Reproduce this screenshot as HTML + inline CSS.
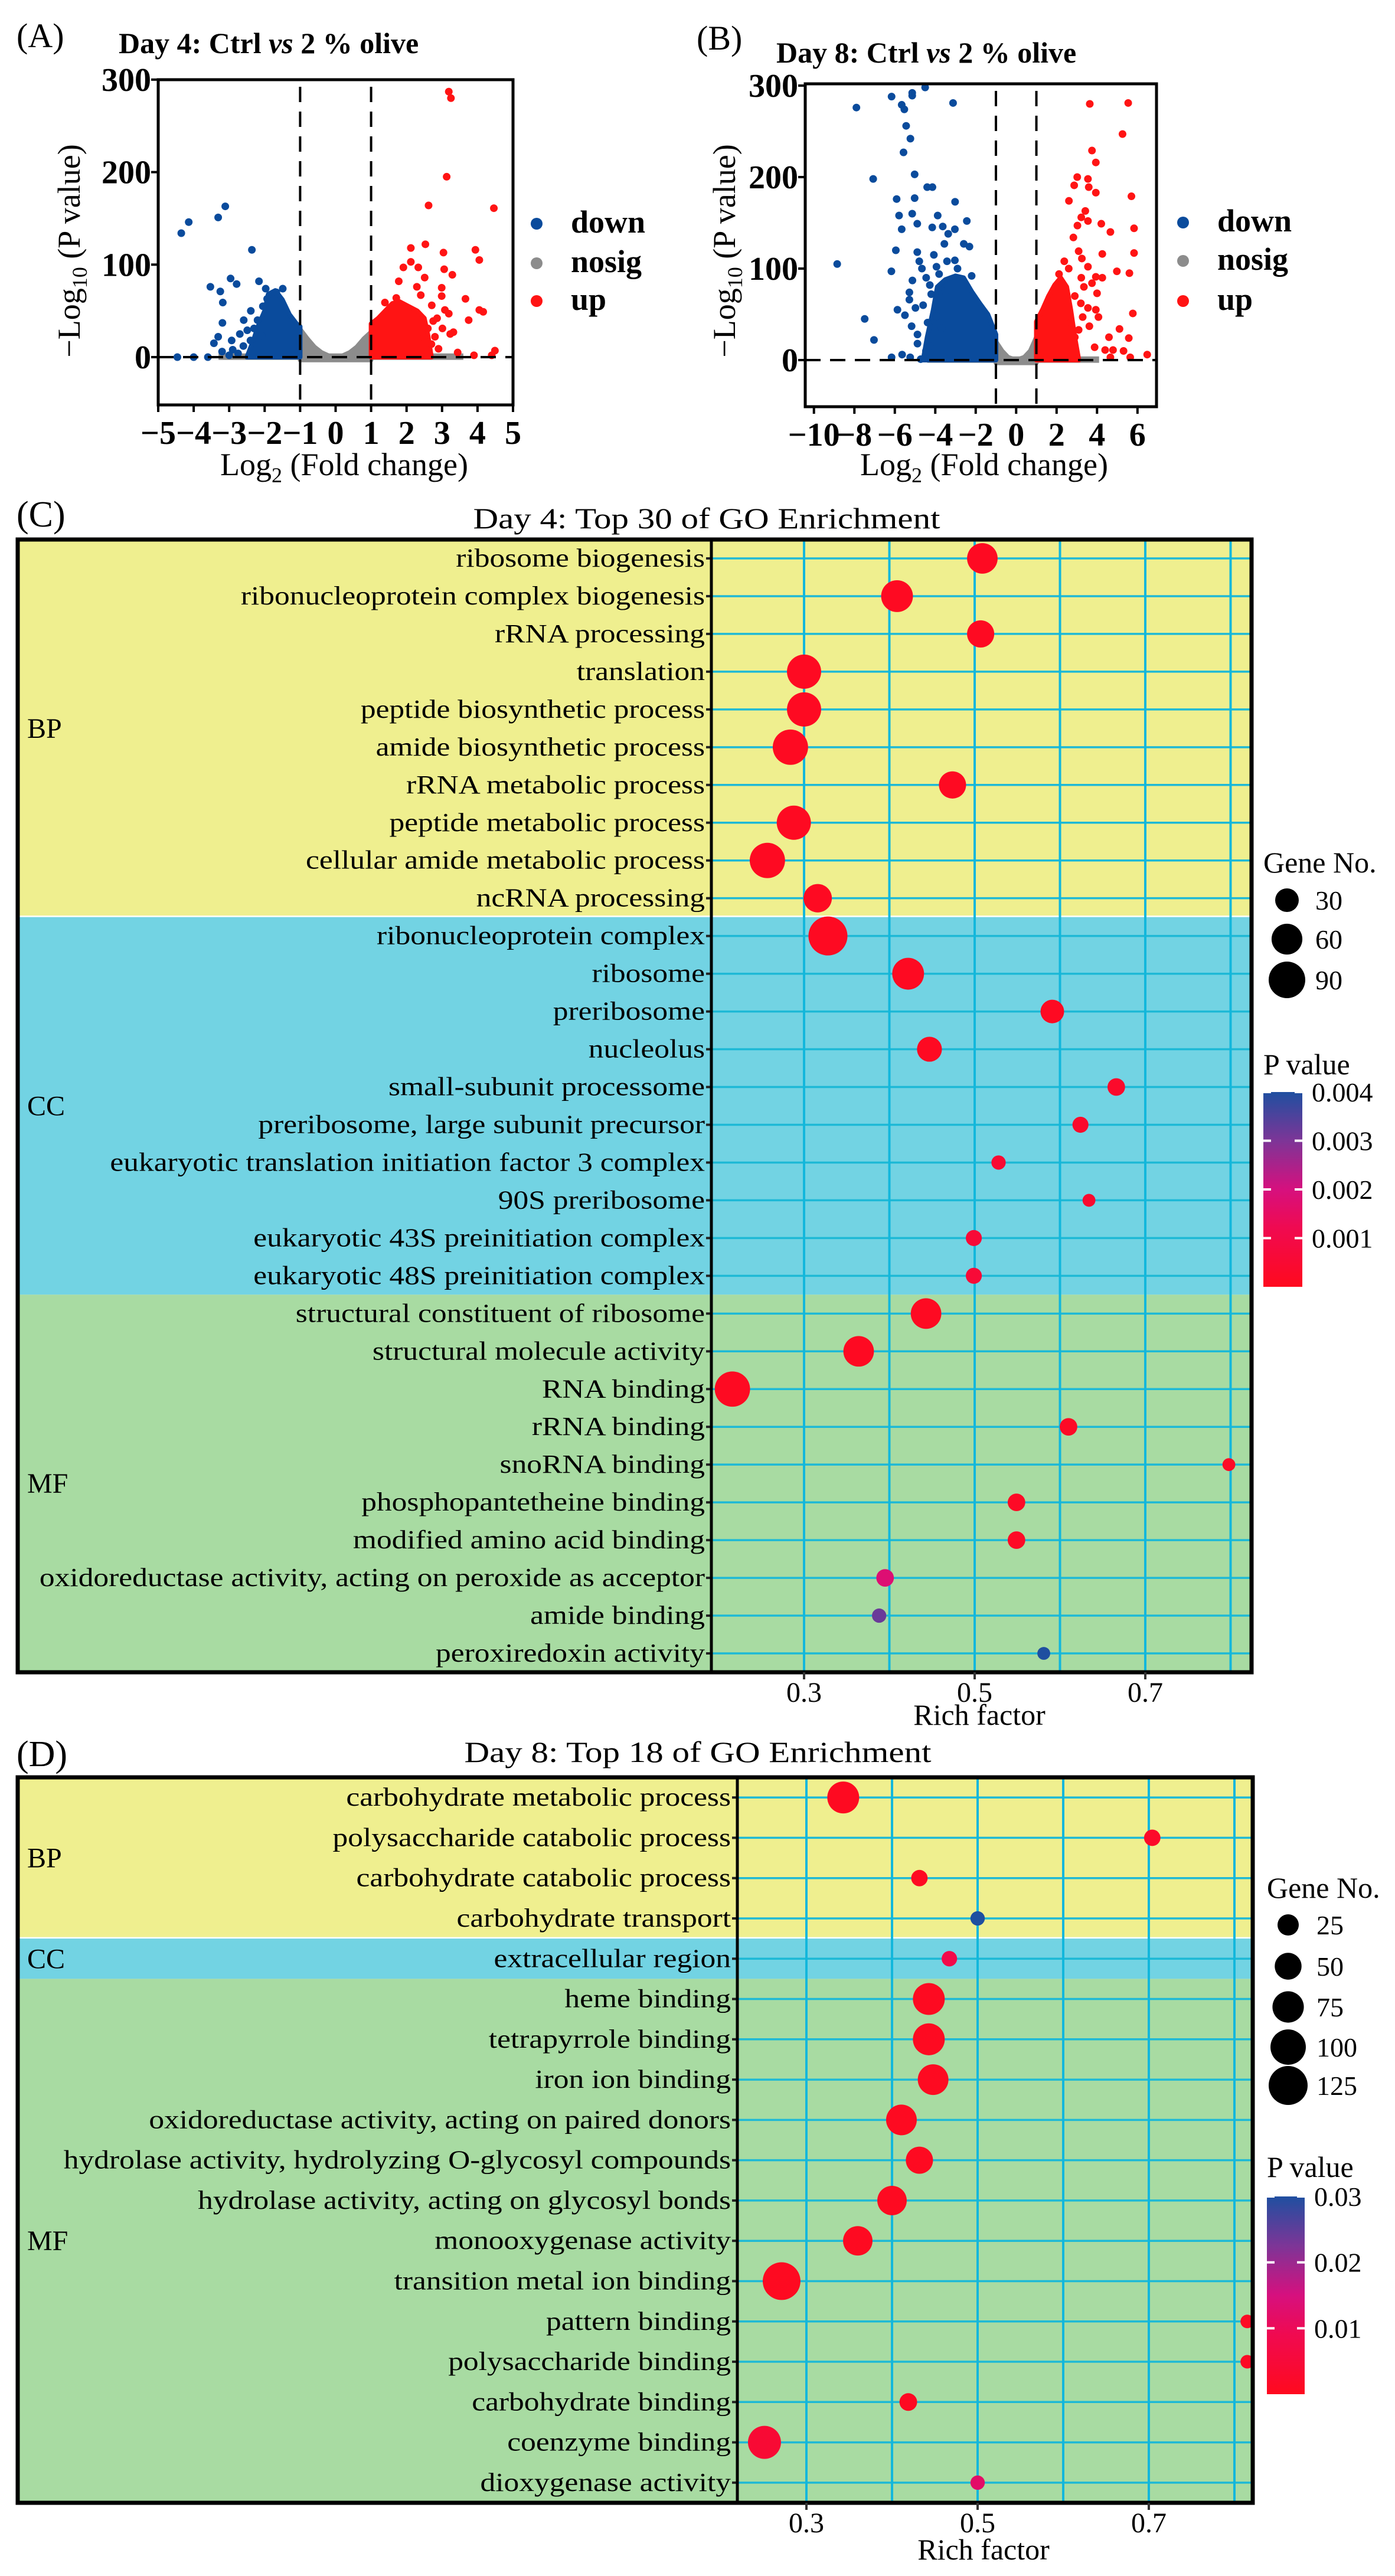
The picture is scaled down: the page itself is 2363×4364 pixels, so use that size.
<!DOCTYPE html>
<html><head><meta charset="utf-8"><title>Volcano and GO enrichment</title>
<style>
html,body{margin:0;padding:0;background:#fff;}
svg{display:block;font-family:"Liberation Serif","DejaVu Serif",serif;}
</style></head>
<body>
<svg id="fig" xmlns="http://www.w3.org/2000/svg" width="2363" height="4364" viewBox="0 0 2363 4364">
<defs>
<linearGradient id="gradC" x1="0" y1="1" x2="0" y2="0">
<stop offset="0" stop-color="#ff0a1e"/><stop offset="0.3" stop-color="#f00a50"/><stop offset="0.5" stop-color="#d6107e"/><stop offset="0.75" stop-color="#7d3597"/><stop offset="1" stop-color="#1f4fa0"/>
</linearGradient>
</defs>
<rect x="0" y="0" width="2363" height="4364" fill="#fff"/>
<text x="28" y="80" font-size="58">(A)</text>
<text x="201" y="90" font-size="50" font-weight="bold">Day 4: Ctrl <tspan font-style="italic">vs</tspan> 2 % olive</text>
<text transform="translate(135,425) rotate(-90)" text-anchor="middle" font-size="54">−Log<tspan font-size="36" dy="12">10</tspan><tspan dy="-12"> (P value)</tspan></text>
<text x="583" y="805" text-anchor="middle" font-size="54">Log<tspan font-size="36" dy="12">2</tspan><tspan dy="-12"> (Fold change)</tspan></text>
<text x="1180" y="84" font-size="58">(B)</text>
<text x="1315" y="106" font-size="50" font-weight="bold">Day 8: Ctrl <tspan font-style="italic">vs</tspan> 2 % olive</text>
<text transform="translate(1245,425) rotate(-90)" text-anchor="middle" font-size="54">−Log<tspan font-size="36" dy="12">10</tspan><tspan dy="-12"> (P value)</tspan></text>
<text x="1667" y="805" text-anchor="middle" font-size="54">Log<tspan font-size="36" dy="12">2</tspan><tspan dy="-12"> (Fold change)</tspan></text>
<text x="28" y="892" font-size="62">(C)</text>
<g transform="translate(1197,895) scale(1.18,1)"><text x="0" y="0" text-anchor="middle" font-size="50">Day 4: Top 30 of GO Enrichment</text></g>
<text x="28" y="2992" font-size="62">(D)</text>
<g transform="translate(1182,2985) scale(1.18,1)"><text x="0" y="0" text-anchor="middle" font-size="50">Day 8: Top 18 of GO Enrichment</text></g>
<text x="1659" y="2922" text-anchor="middle" font-size="50">Rich factor</text>
<text x="1666" y="4336" text-anchor="middle" font-size="50">Rich factor</text>
</svg>
<script>
const aDown=[[-4.35,134],[-4.14,146],[-3.31,151],[-3.11,163],[-2.36,116],[-2.96,85],[-2.79,79],[-3.53,76],[-3.25,71],[-3.18,59],[-2.16,82],[-3.19,37],[-3.31,22],[-3.43,15],[-3.2,6],[-2.39,50],[-2.59,40],[-4.46,0],[-4.0,0],[-3.6,0],[-2.93,18],[-2.7,25],[-2.49,29],[-2.3,31],[-2.08,23],[-1.97,74],[-1.49,74],[-1.67,70],[-1.93,63],[-2.9,8],[-2.6,12],[-2.4,18],[-2.75,4],[-3.0,2],[-2.2,40],[-2.05,55]];
const aUp=[[3.19,287],[3.25,280],[3.13,195],[2.62,164],[4.46,161],[2.53,122],[2.12,118],[3.94,116],[3.04,113],[4.05,105],[2.12,103],[1.91,97],[2.33,97],[3.06,95],[3.29,89],[2.51,86],[1.78,82],[2.29,76],[2.99,75],[2.4,67],[2.99,66],[3.66,63],[1.71,64],[1.39,59],[2.71,56],[4.05,51],[4.16,49],[3.08,51],[3.75,40],[3.19,47],[2.75,39],[3.01,31],[3.23,25],[3.32,27],[2.9,9],[3.44,5],[3.9,2],[4.49,7],[4.4,2],[2.49,21],[2.6,31],[2.86,42],[2.01,37],[2.27,42],[2.7,14],[2.8,22]];
const aDownEnv=[[-2.5,0],[-2.3,20],[-2.2,32],[-2.0,50],[-1.9,68],[-1.7,72],[-1.5,62],[-1.3,46],[-1.1,36],[-1,33],[-1,0]];
const aUpEnv=[[1,0],[1,36],[1.2,42],[1.4,50],[1.6,58],[1.8,60],[2.0,56],[2.3,50],[2.5,42],[2.6,24],[2.7,0]];
const aNosigEnv=[[-1,30],[-0.8,20],[-0.6,11],[-0.4,5],[-0.2,1.5],[0,0],[0.2,1.5],[0.4,5],[0.6,11],[0.8,20],[1,27],[1,-3],[-1,-3]];
const aNosigBase=[-3.3,3.6];
const aXTicks=[-5,-4,-3,-2,-1,0,1,2,3,4,5];
const aYTicks=[0,100,200,300];
const bDown=[[-4.5,298],[-5.14,292],[-5.14,289],[-6.16,288],[-7.9,276],[-5.66,279],[-5.53,274],[-3.12,281],[-5.44,256],[-5.23,242],[-5.57,227],[-7.07,198],[-5.02,203],[-4.4,189],[-4.14,189],[-5.91,176],[-5.02,177],[-3.02,173],[-5.79,158],[-5.14,160],[-3.88,158],[-4.89,149],[-5.66,143],[-4.15,145],[-3.63,146],[-2.44,152],[-3.36,138],[-3.03,143],[-5.95,120],[-4.89,118],[-3.55,127],[-2.59,127],[-2.31,124],[-8.85,105],[-6.17,97],[-5.13,87],[-7.49,45],[-7.03,22],[-5.87,55],[-5.5,49],[-5.28,74],[-5.28,66],[-4.98,57],[-5.17,37],[-4.88,28],[-4.88,18],[-4.38,41],[-4.79,108],[-4.66,100],[-4.07,115],[-3.94,102],[-3.42,108],[-3.03,109],[-4.27,82],[-4.2,72],[-3.81,94],[-6.16,3],[-5.64,6],[-5.24,3],[-4.72,1],[-4.46,10],[-4.27,15],[-3.94,48],[-3.68,35],[-4.6,60],[-4.45,90],[-3.5,75],[-2.9,100],[-2.2,92]];
const bUp=[[3.64,280],[5.54,281],[5.26,247],[3.75,229],[3.94,216],[3.02,200],[3.55,198],[2.87,191],[3.59,189],[3.94,183],[5.7,179],[2.61,174],[3.42,163],[3.22,156],[3.55,152],[4.21,149],[4.66,140],[5.83,144],[3.03,147],[2.83,134],[3.09,119],[4.26,116],[5.83,117],[3.25,111],[2.38,108],[3.55,102],[4.98,97],[5.6,95],[2.12,94],[3.94,91],[4.26,90],[3.22,90],[3.75,84],[4.0,73],[3.35,80],[5.77,51],[3.55,57],[3.94,55],[3.29,47],[4.07,47],[5.11,34],[5.57,24],[4.59,25],[3.62,37],[3.88,14],[4.4,11],[4.79,11],[5.31,10],[6.48,6],[4.66,3],[5.64,3],[2.9,25],[3.09,33],[2.7,41],[2.6,100],[2.9,70],[3.2,62]];
const bDownEnv=[[-4.6,0],[-4.4,25],[-4.1,55],[-3.9,80],[-3.5,88],[-3.0,92],[-2.6,90],[-2.2,75],[-1.8,62],[-1.4,50],[-1.0,28],[-1,0]];
const bUpEnv=[[1,0],[1,42],[1.3,55],[1.6,70],[1.9,82],[2.2,90],[2.5,80],[2.7,55],[2.9,25],[3.1,0]];
const bNosigEnv=[[-1,20],[-0.7,10],[-0.4,3],[0,0],[0.4,3],[0.7,10],[1,25],[1,-3],[-1,-3]];
const bNosigBase=[-4.4,4.1];
const bXTicks=[-10,-8,-6,-4,-2,0,2,4,6];
const bYTicks=[0,100,200,300];
const cTerms=["ribosome biogenesis","ribonucleoprotein complex biogenesis","rRNA processing","translation","peptide biosynthetic process","amide biosynthetic process","rRNA metabolic process","peptide metabolic process","cellular amide metabolic process","ncRNA processing","ribonucleoprotein complex","ribosome","preribosome","nucleolus","small-subunit processome","preribosome, large subunit precursor","eukaryotic translation initiation factor 3 complex","90S preribosome","eukaryotic 43S preinitiation complex","eukaryotic 48S preinitiation complex","structural constituent of ribosome","structural molecule activity","RNA binding","rRNA binding","snoRNA binding","phosphopantetheine binding","modified amino acid binding","oxidoreductase activity, acting on peroxide as acceptor","amide binding","peroxiredoxin activity"];
const cRich=[0.509,0.409,0.507,0.30,0.30,0.284,0.474,0.288,0.257,0.316,0.328,0.422,0.591,0.447,0.666,0.624,0.528,0.634,0.499,0.499,0.443,0.364,0.216,0.610,0.798,0.549,0.549,0.395,0.388,0.581];
const cGenes=[59,65,44,77,77,83,44,77,83,49,104,65,30,35,11,7,3,0,7,7,59,59,83,11,0,11,11,11,3,0];
const cPval=[0.0001,0.0001,0.0001,0.0001,0.0001,0.0001,0.0001,0.0001,0.0001,0.0001,0.0001,0.0001,0.0001,0.0001,0.0003,0.0003,0.0005,0.0004,0.0006,0.0006,0.0001,0.0001,0.0001,0.0002,0.0002,0.0002,0.0002,0.0018,0.0032,0.004];
const cCats=["BP","CC","MF"];
const cCatCounts=[10,10,10];
const cXTicks=[0.3,0.5,0.7];
const cGridX=[0.3,0.4,0.5,0.6,0.7,0.8];
const cSizeLegend=[30,60,90];
const cPTicks=[0.001,0.002,0.003,0.004];
const dTerms=["carbohydrate metabolic process","polysaccharide catabolic process","carbohydrate catabolic process","carbohydrate transport","extracellular region","heme binding","tetrapyrrole binding","iron ion binding","oxidoreductase activity, acting on paired donors","hydrolase activity, hydrolyzing O-glycosyl compounds","hydrolase activity, acting on glycosyl bonds","monooxygenase activity","transition metal ion binding","pattern binding","polysaccharide binding","carbohydrate binding","coenzyme binding","dioxygenase activity"];
const dRich=[0.343,0.704,0.432,0.5,0.467,0.443,0.443,0.448,0.411,0.432,0.40,0.36,0.271,0.815,0.815,0.419,0.251,0.5];
const dGenes=[78,8,8,2,5,78,78,71,71,52,64,64,116,0,0,12,85,2];
const dPval=[0.0005,0.002,0.0008,0.03,0.008,0.0005,0.0005,0.0005,0.0005,0.0005,0.0005,0.0005,0.0005,0.001,0.001,0.0008,0.004,0.012];
const dCats=["BP","CC","MF"];
const dCatCounts=[4,1,13];
const dXTicks=[0.3,0.5,0.7];
const dGridX=[0.3,0.4,0.5,0.6,0.7,0.8];
const dSizeLegend=[25,50,75,100,125];
const dPTicks=[0.01,0.02,0.03];

const NS="http://www.w3.org/2000/svg";
const svg=document.getElementById('fig');
function mk(tag,attrs,parent){const e=document.createElementNS(NS,tag);for(const k in attrs)e.setAttribute(k,attrs[k]);(parent||svg).appendChild(e);return e;}
function hex(c){return [parseInt(c.slice(1,3),16),parseInt(c.slice(3,5),16),parseInt(c.slice(5,7),16)];}
const stops=[[0,'#ff0a1e'],[0.3,'#f00a50'],[0.5,'#d6107e'],[0.75,'#7d3597'],[1,'#1f4fa0']];
function pcol(f){f=Math.max(0,Math.min(1,f));for(let i=1;i<stops.length;i++){if(f<=stops[i][0]){const a=stops[i-1],b=stops[i];const t=(f-a[0])/(b[0]-a[0]);const A=hex(a[1]),B=hex(b[1]);return 'rgb('+A.map((v,j)=>Math.round(v+(B[j]-v)*t)).join(',')+')';}}return stops[stops.length-1][1];}

function volcano(id,box,xmin,xmax,y0px,pxPerUnitY,down,up,downEnv,upEnv,nosigEnv,nosigBase,xticks,yticks,legendX,legendY){
  const sx=v=>box.x0+(v-xmin)/(xmax-xmin)*(box.x1-box.x0);
  const sy=v=>y0px-v*pxPerUnitY;
  const g=mk('g',{});
  
  
  const clip=mk('clipPath',{id:id+'clip'},g);
  mk('rect',{x:box.x0,y:box.y0,width:box.x1-box.x0,height:box.y1-box.y0},clip);
  const pg=mk('g',{'clip-path':'url(#'+id+'clip)'},g);
  
  
  const nb=mk('rect',{x:sx(nosigBase[0]),y:sy(4),width:sx(nosigBase[1])-sx(nosigBase[0]),height:sy(-3)-sy(4),fill:'#8c8c8c'},pg);
  
  
  const poly=(env,col,name)=>{const p=mk('polygon',{points:env.map(d=>sx(d[0])+','+sy(d[1])).join(' '),fill:col,stroke:col,'stroke-width':8,'stroke-linejoin':'round'},pg);
    
    };
  poly(nosigEnv,'#8c8c8c','nosig-dense-points');
  poly(downEnv,'#0a4b9c','down-dense-points');
  poly(upEnv,'#ff1414','up-dense-points');
  down.forEach(d=>{const c=mk('circle',{cx:sx(d[0]),cy:sy(d[1]),r:6.5,fill:'#0a4b9c'},pg);
    
    });
  up.forEach(d=>{const c=mk('circle',{cx:sx(d[0]),cy:sy(d[1]),r:6.5,fill:'#ff1414'},pg);
    
    });
  [-1,1].forEach(v=>{const l=mk('line',{x1:sx(v),x2:sx(v),y1:box.y0+12,y2:box.y1,stroke:'#000','stroke-width':4,'stroke-dasharray':'26 16'},g);
    
    });
  const hl=mk('line',{x1:box.x0,x2:box.x1,y1:sy(0),y2:sy(0),stroke:'#000','stroke-width':4,'stroke-dasharray':'26 16'},g);
  
  
  const fr=mk('rect',{x:box.x0,y:box.y0,width:box.x1-box.x0,height:box.y1-box.y0,fill:'none',stroke:'#000','stroke-width':5},g);
  
  
  xticks.forEach(v=>{mk('line',{x1:sx(v),x2:sx(v),y1:box.y1,y2:box.y1+12,stroke:'#000','stroke-width':4},g);
    const t=mk('text',{x:sx(v),y:box.y1+66,'text-anchor':'middle','font-size':56,'font-weight':'bold'},g);
    t.textContent=(v<0?'−':'')+Math.abs(v);
    
    });
  yticks.forEach(v=>{mk('line',{x1:box.x0-12,x2:box.x0,y1:sy(v),y2:sy(v),stroke:'#000','stroke-width':4},g);
    const t=mk('text',{x:box.x0-12,y:sy(v)+19,'text-anchor':'end','font-size':56,'font-weight':'bold'},g);
    t.textContent=String(v);
    
    });
  const lg=mk('g',{},g);
  
  
  [['down','#0a4b9c'],['nosig','#8c8c8c'],['up','#ff1414']].forEach((e,i)=>{
    const cy=legendY[i];
    mk('circle',{cx:legendX,cy:cy,r:10,fill:e[1]},lg);
    const t=mk('text',{x:legendX+58,y:cy+15,'font-size':54,'font-weight':'bold'},lg);
    t.textContent=e[0];
    
    });
}
volcano('a',{x0:268,x1:869,y0:135,y1:686},-5,5,605,1.567,aDown,aUp,aDownEnv,aUpEnv,aNosigEnv,aNosigBase,aXTicks,aYTicks,909,[379,446,510]);
volcano('b',{x0:1364,x1:1959,y0:142,y1:689},-10.43,6.94,610,1.55,bDown,bUp,bDownEnv,bUpEnv,bNosigEnv,bNosigBase,bXTicks,bYTicks,2004,[377,442,510]);

function goPlot(id,cfg){
  const {x0,xd,x1,y0,y1,pmax,terms,rich,genes,pval,cats,catCounts,xticks,gridx,rfun}=cfg;
  const sx=v=>cfg.px03+(v-0.3)/0.1*cfg.pxPer01;
  const n=terms.length,rh=(y1-y0)/n;
  const sy=i=>y0+(i+0.5)*rh;
  const g=mk('g',{});
  
  
  const cols={BP:'#efef8f',CC:'#72d3e3',MF:'#a8dba2'};
  let s=0;
  cats.forEach((c,k)=>{const yy=y0+s*rh,hh=catCounts[k]*rh;
    const r=mk('rect',{x:x0,y:yy,width:x1-x0,height:hh,fill:cols[c]},g);
    
    
    const t=mk('text',{x:x0+16,y:yy+hh/2+16,'font-size':48},g);
    t.textContent=c;
    
    
    s+=catCounts[k];
    if(k===0){const w=mk('line',{x1:x0,x2:x1,y1:y0+s*rh,y2:y0+s*rh,stroke:'#fff','stroke-width':5},g);
      
      }
  });
  for(let i=0;i<n;i++){const l=mk('line',{x1:xd,x2:x1,y1:sy(i),y2:sy(i),stroke:'#1db9d6','stroke-width':3.5},g);
    
    }
  gridx.forEach(v=>{const l=mk('line',{x1:sx(v),x2:sx(v),y1:y0,y2:y1,stroke:'#12b7dc','stroke-width':4},g);
    
    });
  terms.forEach((t,i)=>{
    mk('line',{x1:xd-9,x2:xd,y1:sy(i),y2:sy(i),stroke:'#222','stroke-width':4},g);
    const gg=mk('g',{transform:'translate('+(xd-11)+','+(sy(i)+14)+') scale(1.17,1)'},g);
    const tx=mk('text',{x:0,y:0,'text-anchor':'end','font-size':44},gg);
    tx.textContent=t;
    
    
  });
  terms.forEach((t,i)=>{
    const c=mk('circle',{cx:sx(rich[i]),cy:sy(i),r:rfun(genes[i]),fill:pcol(pval[i]/pmax)},g);
    
    
  });
  const dv=mk('line',{x1:xd,x2:xd,y1:y0,y2:y1,stroke:'#000','stroke-width':5},g);
  
  
  const fr=mk('rect',{x:x0,y:y0,width:x1-x0,height:y1-y0,fill:'none',stroke:'#000','stroke-width':7},g);
  
  
  xticks.forEach(v=>{mk('line',{x1:sx(v),x2:sx(v),y1:y1,y2:y1+12,stroke:'#333','stroke-width':4},g);
    const t=mk('text',{x:sx(v),y:y1+50,'text-anchor':'middle','font-size':48},g);
    t.textContent=v.toFixed(1);
    
    });
  const L=cfg.leg;
  const sg=mk('g',{},g);
  
  
  const st=mk('text',{x:L.x,y:L.titleY,'font-size':50},sg);
  st.textContent='Gene No.';
  
  
  cfg.sizeLegend.forEach((v,i)=>{mk('circle',{cx:L.dotX,cy:L.dotY[i],r:rfun(v),fill:'#000'},sg);
    const t=mk('text',{x:L.dotX+48,y:L.dotY[i]+16,'font-size':46},sg);
    t.textContent=String(v);
    
    });
  const cg=mk('g',{},g);
  
  
  const pt=mk('text',{x:L.x,y:L.pTitleY,'font-size':50},cg);
  pt.textContent='P value';
  
  
  mk('rect',{x:L.barX,y:L.barTop,width:L.barW,height:L.barBot-L.barTop,fill:'url(#gradC)'},cg);
  const py=v=>L.barBot-v/pmax*(L.barBot-L.barTop);
  cfg.pticks.forEach(v=>{
    mk('line',{x1:L.barX,x2:L.barX+13,y1:py(v),y2:py(v),stroke:'#fff','stroke-width':4},cg);
    mk('line',{x1:L.barX+L.barW-13,x2:L.barX+L.barW,y1:py(v),y2:py(v),stroke:'#fff','stroke-width':4},cg);
    const t=mk('text',{x:L.barX+L.barW+16,y:py(v)+16,'font-size':46},cg);
    t.textContent=String(v);
    
    });
}
goPlot('c',{x0:30,xd:1205,x1:2120,y0:914,y1:2833,px03:1362,pxPer01:144.5,pmax:0.004,
  terms:cTerms,rich:cRich,genes:cGenes,pval:cPval,cats:cCats,catCounts:cCatCounts,xticks:cXTicks,gridx:cGridX,
  rfun:n=>Math.sqrt(119+9.35*n),sizeLegend:cSizeLegend,pticks:cPTicks,
  leg:{x:2140,titleY:1478,dotX:2180,dotY:[1525,1591,1660],pTitleY:1820,barX:2140,barW:66,barTop:1850,barBot:2180}});
goPlot('d',{x0:30,xd:1249,x1:2122,y0:3011,y1:4240,px03:1366,pxPer01:145,pmax:0.03,
  terms:dTerms,rich:dRich,genes:dGenes,pval:dPval,cats:dCats,catCounts:dCatCounts,xticks:dXTicks,gridx:dGridX,
  rfun:n=>Math.sqrt(133+7.65*n),sizeLegend:dSizeLegend,pticks:dPTicks,
  leg:{x:2146,titleY:3215,dotX:2182,dotY:[3261,3331,3400,3468,3533],pTitleY:3688,barX:2146,barW:64,barTop:3721,barBot:4056}});
</script>
</body></html>
